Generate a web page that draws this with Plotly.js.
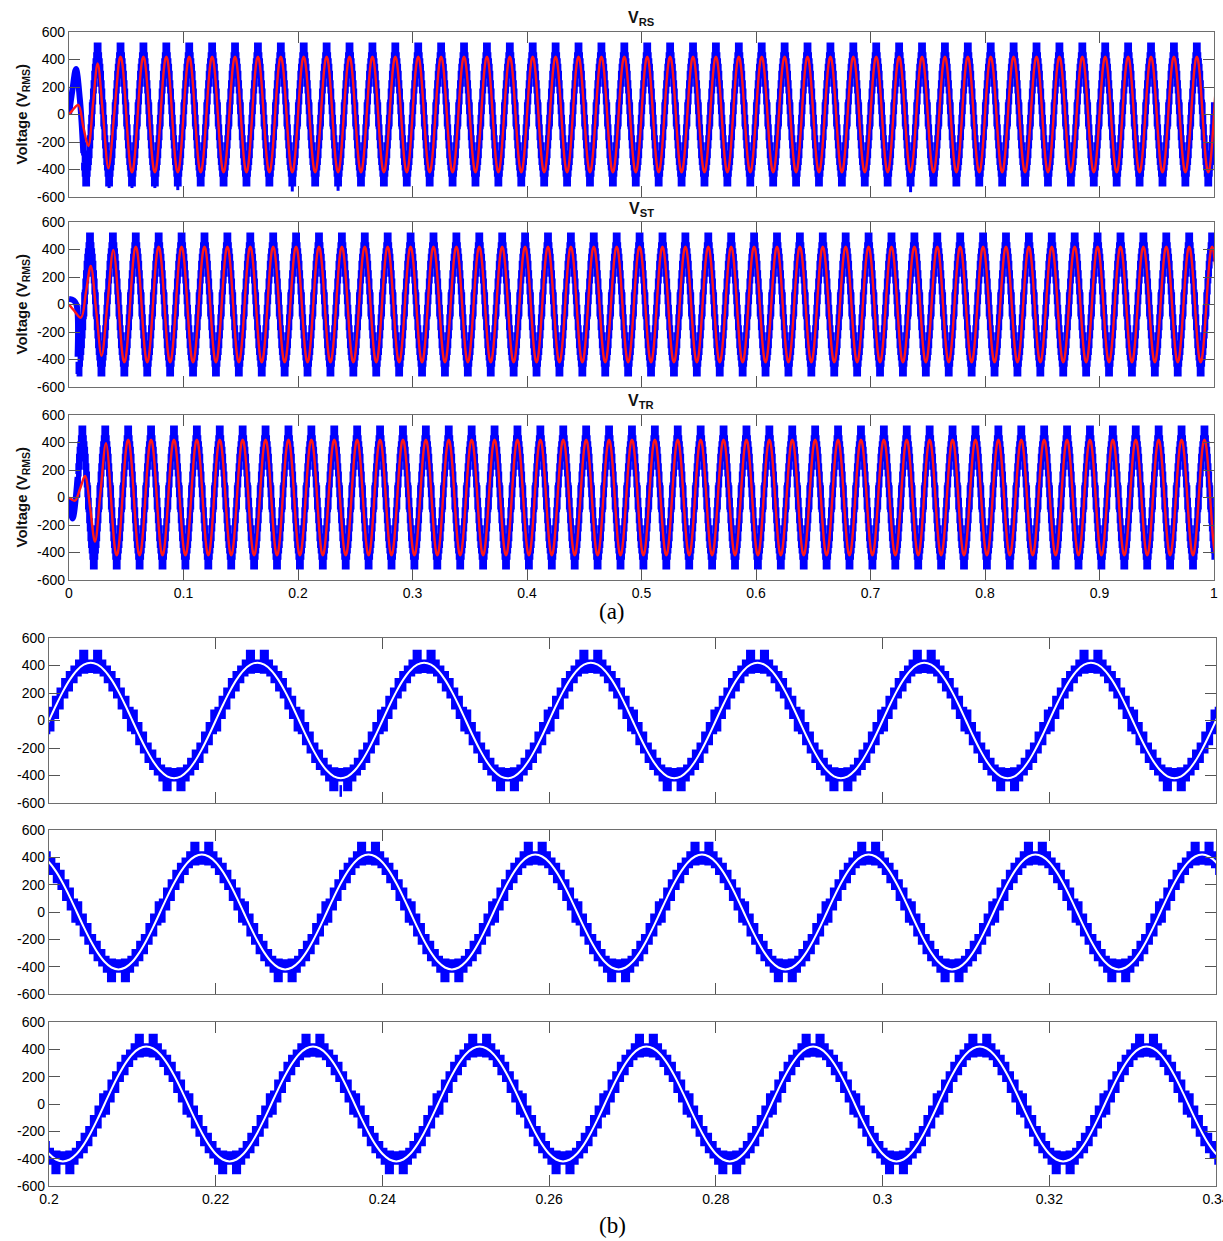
<!DOCTYPE html>
<html>
<head>
<meta charset="utf-8">
<script src="https://cdn.plot.ly/plotly-3.0.1.min.js"></script>
<style>html,body{margin:0;padding:0;background:#fff;}#chart{width:1223px;height:1241px;}</style>
</head>
<body>
<div id="chart"></div>
<script>
// ---------------- DATA ----------------
const FREQ_HZ = 50;                       // fundamental frequency (period 0.02 s)
const phaseNames = ["RS", "ST", "TR"];     // line-to-line voltages
const phaseShiftDeg = [0, 120, 240];       // phase of each line voltage

// x tick labels
const xTickValsA = [0, 0.1, 0.2, 0.3, 0.4, 0.5, 0.6, 0.7, 0.8, 0.9, 1];
const xTickTextA = ["0", "0.1", "0.2", "0.3", "0.4", "0.5", "0.6", "0.7", "0.8", "0.9", "1"];
const xTickValsB = [0.2, 0.22, 0.24, 0.26, 0.28, 0.3, 0.32, 0.34];
const xTickTextB = ["0.2", "0.22", "0.24", "0.26", "0.28", "0.3", "0.32", "0.34"];
const yTickVals = [-600, -400, -200, 0, 200, 400, 600];
const yTickText = ["-600", "-400", "-200", "0", "200", "400", "600"];

// Multilevel inverter output: staircase band over the positive half-wave
// (start phase in degrees, lower and upper level of the switching band, V)
const bandPsi = [0, 9, 19, 29, 39, 49, 59, 68, 82, 98, 112, 121, 131, 141, 151, 161, 171];
const bandLo  = [-70, 20, 90, 170, 220, 280, 330, 350, 355, 350, 330, 280, 220, 170, 90, 20, -70];
const bandHi  = [90, 170, 230, 300, 350, 390, 435, 505, 435, 505, 435, 390, 350, 300, 230, 170, 90];

// Fundamental component over one cycle (phase in degrees, value in V)
const fundPsi = [0, 15, 30, 45, 60, 75, 90, 105, 120, 135, 150, 165, 180, 195, 210, 225, 240, 255, 270, 285, 300, 315, 330, 345];
const fundV   = [0, 109, 210, 297, 364, 406, 420, 406, 364, 297, 210, 109, 0, -109, -210, -297, -364, -406, -420, -406, -364, -297, -210, -109];

// Start-up transients (fundamental, red) for each line voltage
const redTransT_RS = [0, 0.003, 0.0081, 0.0125, 0.0169, 0.021, 0.025, 0.0297, 0.0344, 0.0395];
const redTransV_RS = [0, 30, 69, -90, -229, 80, 372, 0, -391, 0];
const redTransT_ST = [0, 0.004, 0.0105, 0.0148, 0.019, 0.0238, 0.0285, 0.0336, 0.0387];
const redTransV_ST = [0, -40, -96, 90, 280, -50, -373, 10, 396];
const redTransT_TR = [0, 0.0052, 0.0095, 0.014, 0.0185, 0.0227, 0.0275, 0.0323];
const redTransV_TR = [0, -23, 60, 156, -80, -321, 40, 394];
const redSteadyStart = [0.043, 0.0433, 0.0367];

// Start-up transients (inverter output, blue)
const blueTransT_RS = [0, 0.003, 0.0061, 0.0095, 0.0125];
const blueTransV_RS = [0, 180, 330, 110, -280];
const blueTransT_ST = [0, 0.004, 0.0065, 0.0075];
const blueTransV_ST = [40, 30, 0, -380];
const blueTransT_TR = [0, 0.0032, 0.0075];
const blueTransV_TR = [0, -152, 150];
const blueSteadyStart = [0.0125, 0.0075, 0.0075];

// Occasional deeper spikes at the negative peaks (time s, value V)
const spikeT_RS = [0.035, 0.055, 0.075, 0.095, 0.195, 0.235, 0.735];
const spikeV_RS = [-535, -535, -535, -550, -560, -555, -565];
const spikeT_ST = [];
const spikeV_ST = [];
const spikeT_TR = [];
const spikeV_TR = [];

// ---------------- BUILD ----------------
const W = 1223, H = 1241;
const px = v => v / W;
const py = v => 1 - v / H;

const redTransT = [redTransT_RS, redTransT_ST, redTransT_TR];
const redTransV = [redTransV_RS, redTransV_ST, redTransV_TR];
const blueTransT = [blueTransT_RS, blueTransT_ST, blueTransT_TR];
const blueTransV = [blueTransV_RS, blueTransV_ST, blueTransV_TR];
const spikeT = [spikeT_RS, spikeT_ST, spikeT_TR];
const spikeV = [spikeV_RS, spikeV_ST, spikeV_TR];

function cycleSegments() {
  const psi = [], lo = [], hi = [];
  for (let j = 0; j < bandPsi.length; j++) { psi.push(bandPsi[j]); lo.push(bandLo[j]); hi.push(bandHi[j]); }
  for (let j = 0; j < bandPsi.length; j++) { psi.push(bandPsi[j] + 180); lo.push(-bandHi[j]); hi.push(-bandLo[j]); }
  return { psi, lo, hi };
}

function buildBand(phaseDeg, tStart, tEnd) {
  const c = cycleSegments();
  const pts = [];
  const kMax = Math.ceil(tEnd * FREQ_HZ) + 2;
  for (let k = -2; k <= kMax; k++) {
    for (let j = 0; j < c.psi.length; j++) {
      const t = (360 * k + c.psi[j] - phaseDeg) / (360 * FREQ_HZ);
      pts.push([t, c.lo[j], c.hi[j]]);
    }
  }
  let idx = 0;
  while (idx + 1 < pts.length && pts[idx + 1][0] <= tStart) idx++;
  const x = [tStart], lo = [pts[idx][1]], hi = [pts[idx][2]];
  for (let i = idx + 1; i < pts.length && pts[i][0] < tEnd; i++) {
    x.push(pts[i][0]); lo.push(pts[i][1]); hi.push(pts[i][2]);
  }
  x.push(tEnd); lo.push(lo[lo.length - 1]); hi.push(hi[hi.length - 1]);
  return { x, lo, hi };
}

function buildFundamental(p) {
  const x = redTransT[p].slice(), y = redTransV[p].slice();
  const kMax = FREQ_HZ + 2;
  for (let k = -1; k <= kMax; k++) {
    for (let j = 0; j < fundPsi.length; j++) {
      const t = (360 * k + fundPsi[j] - phaseShiftDeg[p]) / (360 * FREQ_HZ);
      if (t >= redSteadyStart[p] && t <= 1.01) { x.push(t); y.push(fundV[j]); }
    }
  }
  return { x, y };
}

function buildSpikes(p) {
  const x = [], y = [];
  for (let i = 0; i < spikeT[p].length; i++) {
    x.push(spikeT[p][i], spikeT[p][i], null);
    y.push(-470, spikeV[p][i], null);
  }
  return { x, y };
}

const BLUE = "rgb(0,0,255)";
const RED = "rgb(255,25,25)";
const traces = [];

const domA = [px(69), px(1214)];
const domB = [px(49), px(1216)];
const rowsA = [[32, 197], [222, 387], [415, 580]];
const rowsB = [[638, 803], [830, 994], [1022, 1186]];

for (let p = 0; p < 3; p++) {
  const band = buildBand(phaseShiftDeg[p], blueSteadyStart[p], 1);
  const fund = buildFundamental(p);
  const sp = buildSpikes(p);
  // (a) panels
  const xa = "x" + (p + 1), ya = "y" + (p + 1);
  traces.push({ x: blueTransT[p], y: blueTransV[p], xaxis: xa, yaxis: ya, mode: "lines",
    line: { color: BLUE, width: 6, shape: "spline" }, hoverinfo: "skip" });
  traces.push({ x: band.x, y: band.lo, xaxis: xa, yaxis: ya, mode: "lines",
    line: { color: BLUE, width: 5, shape: "hv" }, hoverinfo: "skip" });
  traces.push({ x: band.x, y: band.hi, xaxis: xa, yaxis: ya, mode: "lines", fill: "tonexty", fillcolor: BLUE,
    line: { color: BLUE, width: 5, shape: "hv" }, hoverinfo: "skip" });
  traces.push({ x: sp.x, y: sp.y, xaxis: xa, yaxis: ya, mode: "lines",
    line: { color: BLUE, width: 3 }, hoverinfo: "skip" });
  traces.push({ x: fund.x, y: fund.y, xaxis: xa, yaxis: ya, mode: "lines",
    line: { color: RED, width: 2.4, shape: "spline", smoothing: 1 }, hoverinfo: "skip" });
  // (b) panels
  const xb = "x" + (p + 4), yb = "y" + (p + 4);
  traces.push({ x: band.x, y: band.lo, xaxis: xb, yaxis: yb, mode: "lines",
    line: { color: BLUE, width: 2.6, shape: "hv" }, hoverinfo: "skip" });
  traces.push({ x: band.x, y: band.hi, xaxis: xb, yaxis: yb, mode: "lines", fill: "tonexty", fillcolor: BLUE,
    line: { color: BLUE, width: 2.6, shape: "hv" }, hoverinfo: "skip" });
  traces.push({ x: sp.x, y: sp.y, xaxis: xb, yaxis: yb, mode: "lines",
    line: { color: BLUE, width: 2.5 }, hoverinfo: "skip" });
  traces.push({ x: fund.x, y: fund.y, xaxis: xb, yaxis: yb, mode: "lines",
    line: { color: "#ffffff", width: 2, shape: "spline", smoothing: 1 }, hoverinfo: "skip" });
}

const tickFont = { family: "Liberation Sans, Arial, sans-serif", size: 14, color: "#000" };
function xAxis(dom, anchor, range, vals, text, show) {
  return { domain: dom, anchor: anchor, range: range, tickmode: "array", tickvals: vals, ticktext: text,
    showticklabels: show, ticklabeloverflow: "allow", ticks: "inside", ticklen: 11, tickwidth: 1, tickcolor: "#555", mirror: "ticks",
    showline: true, linecolor: "#6e6e6e", linewidth: 1.2, showgrid: false, zeroline: false,
    tickfont: tickFont, fixedrange: true };
}
function yAxis(dom, anchor) {
  return { domain: dom, anchor: anchor, range: [-600, 600], tickmode: "array", tickvals: yTickVals, ticktext: yTickText,
    ticks: "inside", ticklen: 11, tickwidth: 1, tickcolor: "#555", mirror: "ticks",
    showline: true, linecolor: "#6e6e6e", linewidth: 1.2, showgrid: false, zeroline: false,
    tickfont: tickFont, fixedrange: true };
}

const layout = {
  width: W, height: H, margin: { l: 0, r: 0, t: 0, b: 0 },
  paper_bgcolor: "#ffffff", plot_bgcolor: "#ffffff", showlegend: false,
  annotations: []
};
for (let p = 0; p < 3; p++) {
  const ra = rowsA[p], rb = rowsB[p];
  layout["xaxis" + (p + 1)] = xAxis(domA, "y" + (p + 1), [0, 1], xTickValsA, xTickTextA, p === 2);
  layout["yaxis" + (p + 1)] = yAxis([py(ra[1]), py(ra[0])], "x" + (p + 1));
  layout["xaxis" + (p + 4)] = xAxis(domB, "y" + (p + 4), [0.2, 0.34], xTickValsB, xTickTextB, p === 2);
  layout["yaxis" + (p + 4)] = yAxis([py(rb[1]), py(rb[0])], "x" + (p + 4));
  layout.annotations.push({ xref: "paper", yref: "paper", x: px(641), y: py(ra[0] - 13), xanchor: "center", yanchor: "middle",
    showarrow: false, text: "<b>V<sub>" + phaseNames[p] + "</sub></b>",
    font: { family: "Liberation Sans, Arial, sans-serif", size: 16, color: "#111" } });
  layout.annotations.push({ xref: "paper", yref: "paper", x: px(22), y: py((ra[0] + ra[1]) / 2), xanchor: "center", yanchor: "middle",
    showarrow: false, textangle: -90, text: "<b>Voltage (V<sub>RMS</sub>)</b>",
    font: { family: "Liberation Sans, Arial, sans-serif", size: 15, color: "#111" } });
}
layout.annotations.push({ xref: "paper", yref: "paper", x: px(612), y: py(611), xanchor: "center", yanchor: "middle",
  showarrow: false, text: "(a)", font: { family: "Liberation Serif, Times New Roman, serif", size: 23, color: "#000" } });
layout.annotations.push({ xref: "paper", yref: "paper", x: px(612), y: py(1225), xanchor: "center", yanchor: "middle",
  showarrow: false, text: "(b)", font: { family: "Liberation Serif, Times New Roman, serif", size: 23, color: "#000" } });

Plotly.newPlot("chart", traces, layout, { staticPlot: true, displayModeBar: false });
</script>
</body>
</html>
